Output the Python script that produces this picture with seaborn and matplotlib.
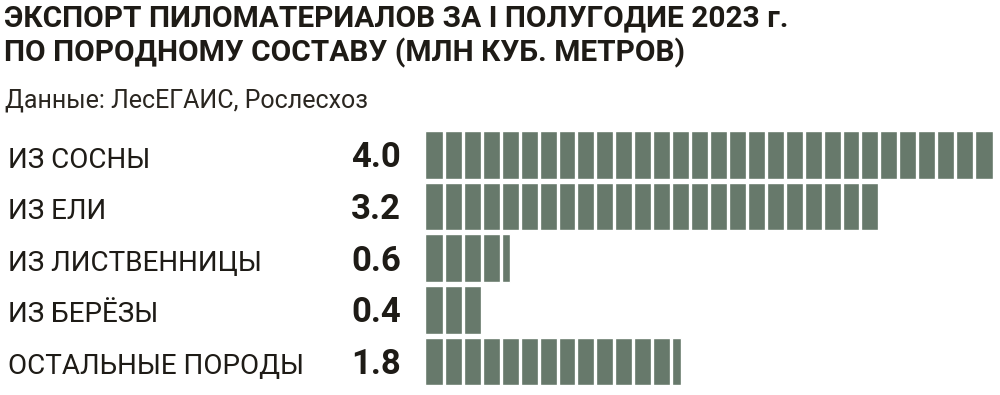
import matplotlib
matplotlib.use("Agg")
import matplotlib.pyplot as plt
import matplotlib.transforms as mtransforms
import numpy as np
import pandas as pd
import seaborn as sns

# Data
categories = ["ИЗ СОСНЫ", "ИЗ ЕЛИ", "ИЗ ЛИСТВЕННИЦЫ", "ИЗ БЕРЁЗЫ", "ОСТАЛЬНЫЕ ПОРОДЫ"]
values = [4.0, 3.2, 0.6, 0.4, 1.8]
value_labels = ["4.0", "3.2", "0.6", "0.4", "1.8"]

title = "ЭКСПОРТ ПИЛОМАТЕРИАЛОВ ЗА I ПОЛУГОДИЕ 2023 г.\nПО ПОРОДНОМУ СОСТАВУ (МЛН КУБ. МЕТРОВ)"
source = "Данные: ЛесЕГАИС, Рослесхоз"

df = pd.DataFrame({"cat": categories, "val": values})

sns.set_theme(style="white")
plt.rcParams["font.family"] = ["Roboto", "DejaVu Sans"]

bar_color = "#67796b"
text_color = "#1e1b16"

fig = plt.figure(figsize=(10, 3.95), dpi=100)
fig.patch.set_facecolor("white")
ax = fig.add_axes([0.425, 0.025, 0.568, 0.643])

sns.barplot(data=df, x="val", y="cat", color=bar_color, width=0.92,
            saturation=1, ax=ax, orient="h")
ax.set_xlim(0, 4.0)
ax.set_ylim(4.46, -0.46)

# segment the bars into blocks with thin white gaps
step = 4.0 / 30
ax.vlines(np.arange(step, 4.0, step), -0.5, 4.5, color="white", linewidth=2.4, zorder=5)

ax.set_xlabel("")
ax.set_ylabel("")
ax.set_xticks([])
ax.set_yticks([])
sns.despine(ax=ax, left=True, bottom=True)

trans = mtransforms.blended_transform_factory(fig.transFigure, ax.transData)
for i, (cat, lab) in enumerate(zip(categories, value_labels)):
    ax.text(0.008, i + 0.1, cat, transform=trans, ha="left", va="center",
            fontsize=20, color=text_color, clip_on=False)
    ax.text(0.401, i + 0.06, lab, transform=trans, ha="right", va="center",
            fontsize=25, fontweight="bold", color=text_color, clip_on=False)

fig.text(0.004, 0.99, title, ha="left", va="top", fontsize=21.5,
         fontweight="bold", color=text_color, linespacing=1.25)
fig.text(0.005, 0.745, source, ha="left", va="center", fontsize=18,
         color="#2a2620")

fig.savefig("out.png", dpi=100, facecolor="white")
